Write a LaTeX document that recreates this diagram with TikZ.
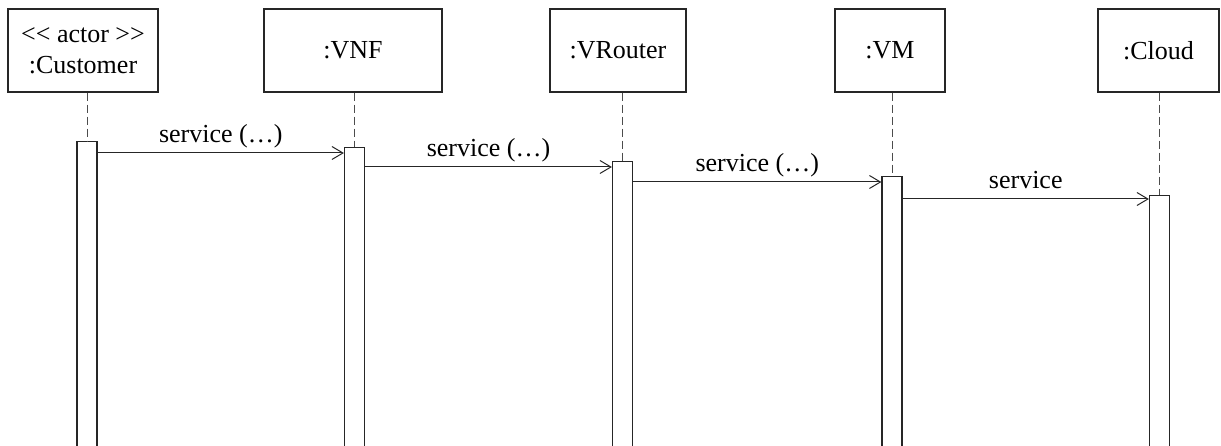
\documentclass[tikz,border=0pt]{standalone}
\usepackage{fontspec}
\newfontfamily\diagfont{Liberation Serif}
\usetikzlibrary{arrows.meta}
\begin{document}
\begin{tikzpicture}[x=1pt,y=-1pt,
  every node/.style={font=\diagfont\fontsize{26}{31}\selectfont},
  objbox/.style={draw=black!85,line width=1.4pt,minimum height=83pt,inner sep=0pt,align=center},
  actbar/.style={draw=black!85,line width=1.2pt,fill=white,minimum width=20pt,minimum height=400pt,anchor=north,inner sep=0pt},
  lifeline/.style={draw=black!70,line width=0.9pt,dash pattern=on 8pt off 4pt},
  msg/.style={draw=black!85,line width=1pt,-{Straight Barb[length=11pt,width=13pt,line width=1pt]}},
  msglabel/.style={anchor=base,inner sep=0pt}]
\useasboundingbox (0,0) rectangle (1221,446);
\clip (0,0) rectangle (1221,446);
% object boxes
\node[objbox,minimum width=150pt] (cust) at (83,50.5) {<< actor >>\\:Customer};
\node[objbox,minimum width=178pt] (vnf) at (353,50.5) {:VNF};
\node[objbox,minimum width=136pt] (vrt) at (618,50.5) {:VRouter};
\node[objbox,minimum width=110pt] (vm) at (890,50.5) {:VM};
\node[objbox,minimum width=121pt] (cld) at (1158.5,50.5) {:Cloud};
% activation bars
\node[actbar] (b1) at (87,141) {};
\node[actbar] (b2) at (354.5,147) {};
\node[actbar] (b3) at (622.5,161) {};
\node[actbar] (b4) at (892,176) {};
\node[actbar] (b5) at (1159.5,195) {};
% lifelines
\draw[lifeline] (cust.south -| b1) -- (b1.north);
\draw[lifeline] (vnf.south -| b2) -- (b2.north);
\draw[lifeline] (vrt.south -| b3) -- (b3.north);
\draw[lifeline] (vm.south -| b4) -- (b4.north);
\draw[lifeline] (cld.south -| b5) -- (b5.north);
% messages
\coordinate (m1) at ([yshift=-12pt]b1.north east);
\coordinate (m2) at ([yshift=-20pt]b2.north east);
\coordinate (m3) at ([yshift=-21pt]b3.north east);
\coordinate (m4) at ([yshift=-23pt]b4.north east);
\draw[msg] (m1) -- node[msglabel,yshift=10pt]{service (…)} (m1 -| b2.west);
\draw[msg] (m2) -- node[msglabel,yshift=10pt]{service (…)} (m2 -| b3.west);
\draw[msg] (m3) -- node[msglabel,yshift=10pt]{service (…)} (m3 -| b4.west);
\draw[msg] (m4) -- node[msglabel,yshift=10pt]{service} (m4 -| b5.west);
\end{tikzpicture}
\end{document}
